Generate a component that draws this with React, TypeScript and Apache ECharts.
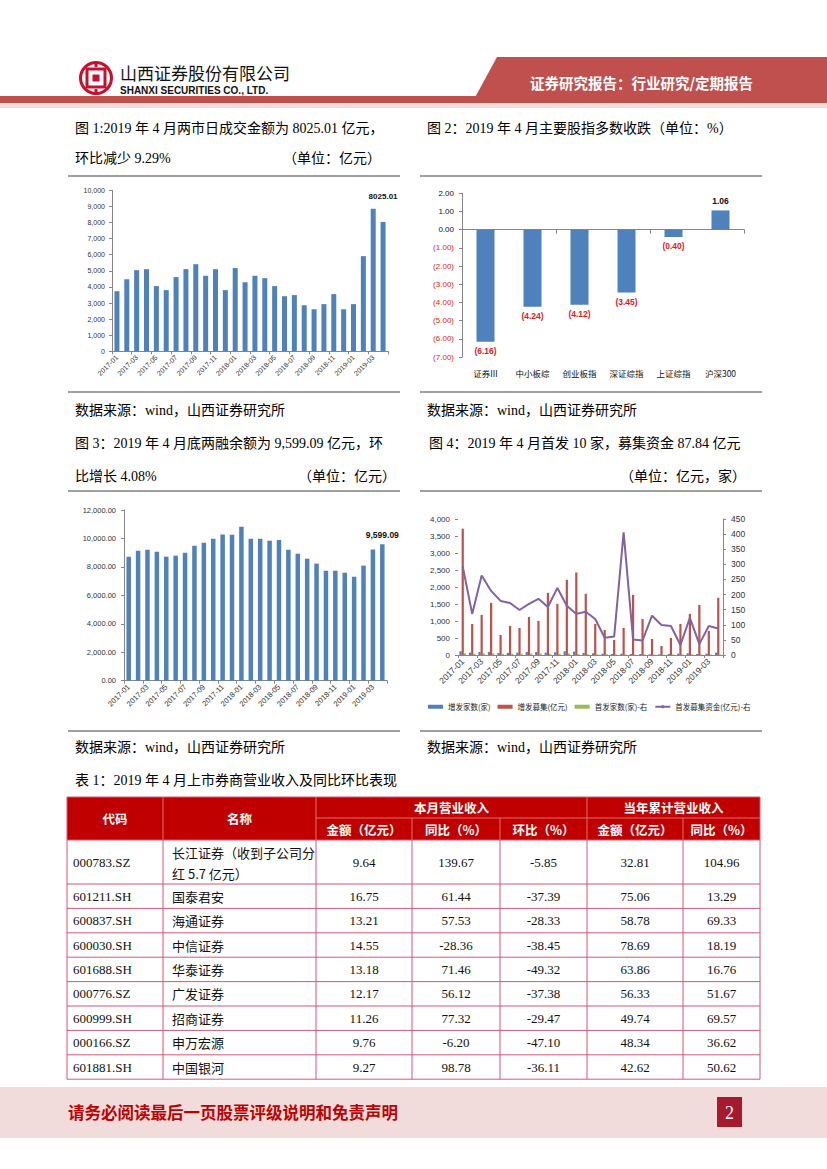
import React, { useEffect, useRef } from 'react';
import * as echarts from 'echarts';

const SANS = '"Liberation Sans", Arial, sans-serif';
const CJK = '"Noto Sans CJK SC", sans-serif';
const SERIF = '"Liberation Serif", "Noto Sans CJK SC", serif';

// ---------- data ----------
const months = ['2017-01','2017-02','2017-03','2017-04','2017-05','2017-06','2017-07','2017-08','2017-09','2017-10','2017-11','2017-12','2018-01','2018-02','2018-03','2018-04','2018-05','2018-06','2018-07','2018-08','2018-09','2018-10','2018-11','2018-12','2019-01','2019-02','2019-03','2019-04'];

const turnover = [3730, 4480, 5040, 5100, 4050, 3800, 4610, 5100, 5410, 4690, 5100, 3800, 5170, 4290, 4690, 4540, 4050, 3420, 3490, 2860, 2610, 2930, 3550, 2610, 2930, 5910, 8847, 8025.01];

const indexNames = ['证券III', '中小板综', '创业板指', '深证综指', '上证综指', '沪深300'];
const indexChange = [-6.16, -4.24, -4.12, -3.45, -0.40, 1.06];

const marginBal = [8720, 9140, 9210, 9070, 8720, 8790, 9000, 9490, 9700, 9980, 10270, 10260, 10830, 9980, 9980, 9840, 9890, 9210, 8930, 8580, 8230, 7730, 7730, 7590, 7310, 8090, 9223, 9599.09];

const seoCount = [110, 70, 90, 90, 60, 60, 70, 90, 90, 70, 80, 110, 100, 60, 50, 40, 30, 40, 30, 30, 20, 20, 30, 40, 50, 30, 40, 70];
const seoAmt = [3715, 914, 1179, 1533, 590, 855, 796, 1120, 1002, 1828, 1504, 2211, 2428, 1799, 914, 737, 442, 796, 1769, 1061, 472, 265, 501, 914, 1209, 1474, 708, 1681];
const ipoCount = [50, 35, 45, 45, 35, 35, 35, 45, 45, 35, 40, 45, 30, 20, 20, 20, 15, 15, 15, 15, 10, 10, 15, 15, 20, 15, 15, 15];
const ipoAmt = [293, 136, 263, 212, 179, 172, 149, 169, 186, 159, 222, 163, 136, 143, 119, 57, 61, 406, 51, 48, 130, 99, 96, 33, 123, 36, 96, 87.84];
const legendNames = ['增发家数(家)', '增发募集(亿元)', '首发家数(家)-右', '首发募集资金(亿元)-右'];

const tCodes = ['000783.SZ', '601211.SH', '600837.SH', '600030.SH', '601688.SH', '000776.SZ', '600999.SH', '000166.SZ', '601881.SH'];
const tNames = ['长江证券（收到子公司分|红 5.7 亿元）', '国泰君安', '海通证券', '中信证券', '华泰证券', '广发证券', '招商证券', '申万宏源', '中国银河'];
const tMonthAmt = ['9.64', '16.75', '13.21', '14.55', '13.18', '12.17', '11.26', '9.76', '9.27'];
const tMonthYoY = ['139.67', '61.44', '57.53', '-28.36', '71.46', '56.12', '77.32', '-6.20', '98.78'];
const tMonthMoM = ['-5.85', '-37.39', '-28.33', '-38.45', '-49.32', '-37.38', '-29.47', '-47.10', '-36.11'];
const tYtdAmt = ['32.81', '75.06', '58.78', '78.69', '63.86', '56.33', '49.74', '48.34', '42.62'];
const tYtdYoY = ['104.96', '13.29', '69.33', '18.19', '16.76', '51.67', '69.57', '36.62', '50.62'];

// ---------- helpers ----------
const T = (text: string, x: number, y: number, o: any = {}) => ({
  type: 'text', x, y, silent: true,
  style: {
    text, fill: o.fill || '#000', fontSize: o.size || 13, fontFamily: o.font || SERIF,
    fontWeight: o.weight || 'normal', align: o.align || 'left', verticalAlign: 'middle',
  },
});
const L = (x1: number, y1: number, x2: number, y2: number, stroke: string, lineWidth: number) => ({
  type: 'line', silent: true, shape: { x1, y1, x2, y2 }, style: { stroke, lineWidth },
});
const R = (x: number, y: number, width: number, height: number, fill: string) => ({
  type: 'rect', silent: true, shape: { x, y, width, height }, style: { fill },
});

const NEG = '#E3191E';
const fmt2 = (v: number) => Math.abs(v).toFixed(2);

function buildGraphic() {
  const g: any[] = [];
  const HRED = '#C0504D';
  // header
  g.push({ type: 'polygon', silent: true, shape: { points: [[497, 57], [827, 57], [827, 103], [472, 103]] }, style: { fill: HRED } });
  g.push(R(0, 96, 827, 7, HRED));
  g.push(R(0, 103, 827, 5, '#F2DCDB'));
  // logo
  g.push({ type: 'ring', silent: true, shape: { cx: 96, cy: 78, r: 17, r0: 14 }, style: { fill: '#C8102E' } });
  g.push({ type: 'rect', silent: true, shape: { x: 87, y: 69, width: 18, height: 18 }, style: { fill: 'none', stroke: '#C8102E', lineWidth: 3 } });
  g.push(R(92.5, 74.5, 7, 7, '#C8102E'));
  g.push(R(94.5, 61, 3, 6, '#C8102E'));
  g.push(R(94.5, 89, 3, 6, '#C8102E'));
  g.push(T('山西证券股份有限公司', 120, 72, { size: 17, font: CJK, fill: '#111' }));
  g.push(T('SHANXI SECURITIES CO., LTD.', 120, 90.5, { size: 10, font: SANS, weight: 'bold', fill: '#111' }));
  g.push(T('证券研究报告：行业研究/定期报告', 530, 82, { size: 14.5, font: CJK, weight: 'bold', fill: '#fff' }));

  // titles
  g.push(T('图 1:2019 年 4 月两市日成交金额为 8025.01 亿元，', 75, 128, { size: 14 }));
  g.push(T('环比减少 9.29%', 75, 158, { size: 14 }));
  g.push(T('（单位：亿元）', 283, 158, { size: 14 }));
  g.push(T('图 2：2019 年 4 月主要股指多数收跌（单位：%）', 427, 128, { size: 14 }));
  g.push(T('数据来源：wind，山西证券研究所', 75, 410, { size: 14 }));
  g.push(T('数据来源：wind，山西证券研究所', 427, 410, { size: 14 }));
  g.push(T('图 3：2019 年 4 月底两融余额为 9,599.09 亿元，环', 75, 443, { size: 14 }));
  g.push(T('比增长 4.08%', 75, 476, { size: 14 }));
  g.push(T('（单位：亿元）', 298, 476, { size: 14 }));
  g.push(T('图 4：2019 年 4 月首发 10 家，募集资金 87.84 亿元', 429, 443, { size: 14 }));
  g.push(T('（单位：亿元，家）', 620, 476, { size: 14 }));
  g.push(T('数据来源：wind，山西证券研究所', 75, 747, { size: 14 }));
  g.push(T('数据来源：wind，山西证券研究所', 427, 747, { size: 14 }));
  g.push(T('表 1：2019 年 4 月上市券商营业收入及同比环比表现', 75, 780, { size: 14 }));

  const GL = '#7F7F7F';
  [176, 392, 491, 731].forEach((y) => {
    g.push(L(68, y, 400, y, GL, 1.5));
    g.push(L(420, y, 762, y, GL, 1.5));
  });

  // table
  const cx = [67, 163, 316, 412, 500, 587, 683, 760];
  const TH = '#C00000';
  const top = 797, h1 = 818, h2 = 840, r1 = 884, rowH = 24.4;
  const bottom = r1 + 8 * rowH;
  g.push(R(cx[0], top, cx[7] - cx[0], h2 - top, TH));
  const HL = '#E07070';
  g.push(L(cx[2], h1, cx[7], h1, HL, 1));
  g.push(L(cx[1], top, cx[1], h2, HL, 1));
  g.push(L(cx[2], top, cx[2], h2, HL, 1));
  g.push(L(cx[5], top, cx[5], h2, HL, 1));
  g.push(L(cx[3], h1, cx[3], h2, HL, 1));
  g.push(L(cx[4], h1, cx[4], h2, HL, 1));
  g.push(L(cx[6], h1, cx[6], h2, HL, 1));
  const hs = { size: 12.5, font: CJK, weight: 'bold', fill: '#fff', align: 'center' };
  g.push(T('代码', (cx[0] + cx[1]) / 2, (top + h2) / 2, hs));
  g.push(T('名称', (cx[1] + cx[2]) / 2, (top + h2) / 2, hs));
  g.push(T('本月营业收入', (cx[2] + cx[5]) / 2, (top + h1) / 2, hs));
  g.push(T('当年累计营业收入', (cx[5] + cx[7]) / 2, (top + h1) / 2, hs));
  const sub = ['金额（亿元）', '同比（%）', '环比（%）', '金额（亿元）', '同比（%）'];
  sub.forEach((s, i) => g.push(T(s, (cx[i + 2] + cx[i + 3]) / 2, (h1 + h2) / 2, hs)));

  const BL = '#D2597A';
  const rowTops = [h2, r1];
  for (let i = 1; i <= 8; i++) rowTops.push(r1 + i * rowH);
  rowTops.forEach((y) => g.push(L(cx[0], y, cx[7], y, BL, 1)));
  cx.forEach((x) => g.push(L(x, h2, x, bottom, BL, 1)));
  g.push(L(cx[0], top, cx[7], top, BL, 1));
  g.push(L(cx[0], top, cx[0], h2, BL, 1));
  g.push(L(cx[7], top, cx[7], h2, BL, 1));

  tCodes.forEach((code, i) => {
    const yT = rowTops[i], yB = rowTops[i + 1];
    const ym = (yT + yB) / 2;
    g.push(T(code, 73, ym, { size: 13, font: SERIF, fill: '#111' }));
    const parts = tNames[i].split('|');
    if (parts.length > 1) {
      g.push(T(parts[0], 172, yT + 12, { size: 13, font: CJK, fill: '#111' }));
      g.push(T(parts[1], 172, yT + 33, { size: 13, font: CJK, fill: '#111' }));
    } else {
      g.push(T(parts[0], 172, ym, { size: 13, font: CJK, fill: '#111' }));
    }
    const vals = [tMonthAmt[i], tMonthYoY[i], tMonthMoM[i], tYtdAmt[i], tYtdYoY[i]];
    vals.forEach((v, k) => g.push(T(v, (cx[k + 2] + cx[k + 3]) / 2, ym, { size: 13, font: SERIF, fill: '#111', align: 'center' })));
  });

  // footer
  g.push(R(0, 1087, 827, 51, '#F2DCDB'));
  g.push(T('请务必阅读最后一页股票评级说明和免责声明', 68, 1112, { size: 16.5, font: CJK, weight: 'bold', fill: '#C00000' }));
  g.push(R(717, 1097, 25, 30, '#A6192E'));
  g.push(T('2', 729.5, 1112.5, { size: 18, font: SERIF, fill: '#fff', align: 'center' }));
  return g;
}

function buildOption(): any {
  const axisGrey = '#868686';
  const lab = (size: number, extra: any = {}) => ({ fontSize: size, color: '#333', fontFamily: SANS, ...extra });
  const lastT = turnover.length - 1;
  const lastM = marginBal.length - 1;
  return {
    animation: false,
    backgroundColor: '#fff',
    grid: [
      { left: 112, top: 190.3, width: 276, height: 161 },
      { left: 462, top: 193.3, width: 282, height: 163.8 },
      { left: 124, top: 510, width: 263, height: 170.7 },
      { left: 458, top: 519, width: 265, height: 136 },
    ],
    xAxis: [
      {
        gridIndex: 0, type: 'category', data: months,
        axisLine: { lineStyle: { color: axisGrey } },
        axisTick: { show: true, interval: 1, length: 3, lineStyle: { color: axisGrey } },
        axisLabel: lab(7, { interval: 1, rotate: 45, margin: 5 }),
      },
      {
        gridIndex: 1, type: 'category', data: indexNames, position: 'bottom',
        axisLine: { onZero: true, lineStyle: { color: axisGrey } },
        axisTick: { show: true, length: 4, lineStyle: { color: axisGrey } },
        axisLabel: { show: false },
      },
      {
        gridIndex: 1, type: 'category', data: indexNames, position: 'bottom',
        axisLine: { show: false, onZero: false },
        axisTick: { show: false },
        axisLabel: { fontSize: 8.5, color: '#111', fontFamily: CJK, margin: 12 },
      },
      {
        gridIndex: 2, type: 'category', data: months,
        axisLine: { lineStyle: { color: axisGrey } },
        axisTick: { show: true, interval: 1, length: 3, lineStyle: { color: axisGrey } },
        axisLabel: lab(7.5, { interval: 1, rotate: 45, margin: 5 }),
      },
      {
        gridIndex: 3, type: 'category', data: months,
        axisLine: { lineStyle: { color: axisGrey } },
        axisTick: { show: true, interval: 1, length: 3, lineStyle: { color: axisGrey } },
        axisLabel: lab(8.5, { interval: 1, rotate: 45, margin: 5 }),
      },
    ],
    yAxis: [
      {
        gridIndex: 0, type: 'value', min: 0, max: 10000, interval: 1000,
        axisLine: { show: true, lineStyle: { color: axisGrey } },
        axisTick: { show: true, length: 3, lineStyle: { color: axisGrey } },
        splitLine: { show: false },
        axisLabel: lab(7, { margin: 7, formatter: (v: number) => v.toLocaleString('en-US') }),
      },
      {
        gridIndex: 1, type: 'value', min: -7, max: 2, interval: 1,
        axisLine: { show: true, lineStyle: { color: axisGrey } },
        axisTick: { show: true, length: 3, lineStyle: { color: axisGrey } },
        splitLine: { show: false },
        axisLabel: {
          fontSize: 8, fontFamily: SANS, margin: 8,
          formatter: (v: number) => (v < 0 ? `{r|(${fmt2(v)})}` : `{n|${v.toFixed(2)}}`),
          rich: { r: { color: NEG, fontSize: 8, fontFamily: SANS }, n: { color: '#111', fontSize: 8, fontFamily: SANS } },
        },
      },
      {
        gridIndex: 2, type: 'value', min: 0, max: 12000, interval: 2000,
        axisLine: { show: true, lineStyle: { color: axisGrey } },
        axisTick: { show: true, length: 3, lineStyle: { color: axisGrey } },
        splitLine: { show: false },
        axisLabel: lab(7.5, { margin: 8, formatter: (v: number) => v.toLocaleString('en-US', { minimumFractionDigits: 2, maximumFractionDigits: 2 }) }),
      },
      {
        gridIndex: 3, type: 'value', min: 0, max: 4000, interval: 500,
        axisLine: { show: false },
        axisTick: { show: true, length: 3, lineStyle: { color: axisGrey } },
        splitLine: { show: false },
        axisLabel: lab(8, { margin: 8, formatter: (v: number) => v.toLocaleString('en-US') }),
      },
      {
        gridIndex: 3, type: 'value', position: 'right', min: 0, max: 450, interval: 50,
        axisLine: { show: true, lineStyle: { color: axisGrey } },
        axisTick: { show: true, length: 3, lineStyle: { color: axisGrey } },
        splitLine: { show: false },
        axisLabel: lab(8.5, { margin: 8 }),
      },
    ],
    legend: {
      left: 428, top: 703, padding: 0, itemWidth: 15, itemHeight: 4, itemGap: 7,
      textStyle: { fontSize: 7.5, fontFamily: CJK, color: '#222' },
      data: [
        { name: legendNames[0], icon: 'rect' },
        { name: legendNames[1], icon: 'rect' },
        { name: legendNames[2], icon: 'rect' },
        { name: legendNames[3] },
      ],
    },
    series: [
      {
        type: 'bar', xAxisIndex: 0, yAxisIndex: 0, barWidth: 5,
        itemStyle: { color: '#4F81BD' },
        data: turnover.map((v, i) => (i === lastT ? {
          value: v,
          label: { show: true, position: 'top', distance: 22, formatter: () => v.toFixed(2), fontSize: 8, fontWeight: 'bold', color: '#111', fontFamily: SANS },
        } : v)),
      },
      {
        type: 'bar', xAxisIndex: 1, yAxisIndex: 1, barWidth: 18,
        itemStyle: { color: '#4F81BD' },
        data: indexChange.map((v) => ({
          value: v,
          label: {
            show: true, position: v < 0 ? 'bottom' : 'top', distance: 5,
            formatter: () => (v < 0 ? `(${fmt2(v)})` : v.toFixed(2)),
            fontSize: 8.5, fontWeight: 'bold', color: v < 0 ? NEG : '#111', fontFamily: SANS,
          },
        })),
      },
      {
        type: 'bar', xAxisIndex: 3, yAxisIndex: 2, barWidth: 4.5,
        itemStyle: { color: '#4F81BD' },
        data: marginBal.map((v, i) => (i === lastM ? {
          value: v,
          label: { show: true, position: 'top', distance: 5, formatter: () => v.toLocaleString('en-US', { minimumFractionDigits: 2 }), fontSize: 8.5, fontWeight: 'bold', color: '#111', fontFamily: SANS },
        } : v)),
      },
      { name: legendNames[0], type: 'bar', xAxisIndex: 4, yAxisIndex: 3, barWidth: 2.2, barGap: '0%', itemStyle: { color: '#4F81BD' }, data: seoCount },
      { name: legendNames[1], type: 'bar', xAxisIndex: 4, yAxisIndex: 3, barWidth: 2.2, barGap: '0%', itemStyle: { color: '#C0504D' }, data: seoAmt },
      { name: legendNames[2], type: 'bar', xAxisIndex: 4, yAxisIndex: 3, barWidth: 2.2, barGap: '0%', itemStyle: { color: '#9BBB59' }, data: ipoCount },
      {
        name: legendNames[3], type: 'line', xAxisIndex: 4, yAxisIndex: 4, symbol: 'none', showSymbol: false,
        lineStyle: { color: '#8064A2', width: 2 }, itemStyle: { color: '#8064A2' }, data: ipoAmt,
      },
    ],
    graphic: { elements: buildGraphic() },
  };
}

export default function App() {
  const ref = useRef<HTMLDivElement>(null);
  useEffect(() => {
    if (!ref.current) return;
    const chart = echarts.init(ref.current, null, { renderer: 'svg' });
    chart.setOption(buildOption());
    return () => chart.dispose();
  }, []);
  return (
    <div
      ref={ref}
      style={{ position: 'absolute', left: 0, top: 0, width: 827, height: 1169, background: '#fff' }}
    />
  );
}
